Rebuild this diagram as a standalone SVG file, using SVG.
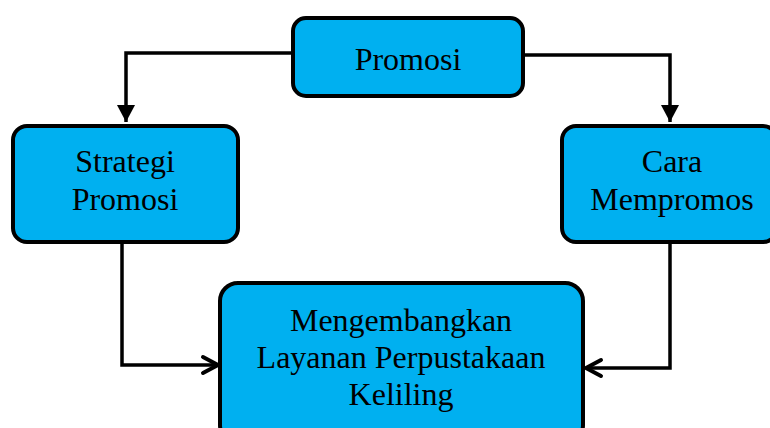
<svg xmlns="http://www.w3.org/2000/svg" width="770" height="428" viewBox="0 0 770 428">
<style>
.box{fill:#00B0F0;stroke:#000;stroke-width:4}
.t{font-family:"Liberation Serif","Times New Roman",serif;font-size:32px;fill:#000;text-anchor:middle}
.c{fill:none;stroke:#000;stroke-width:3.5}
</style>
<defs>
<marker id="tri" markerWidth="17" markerHeight="18" viewBox="0 0 17 18" refX="17" refY="9" orient="auto" markerUnits="userSpaceOnUse">
<path d="M0,0 L17,9 L0,18 Z" fill="#000"/>
</marker>
<marker id="open" markerWidth="22" markerHeight="22" viewBox="0 0 22 22" refX="19" refY="11" orient="auto" markerUnits="userSpaceOnUse">
<path d="M4,3 L19,11 L4,19" fill="none" stroke="#000" stroke-width="4" stroke-linecap="round" stroke-linejoin="round"/>
</marker>
</defs>
<g id="connectors">
<path class="c" d="M293,53 H126 V122" marker-end="url(#tri)"/>
<path class="c" d="M523,55 H670 V122" marker-end="url(#tri)"/>
<path class="c" d="M122,242 V365 H218" marker-end="url(#open)"/>
<path class="c" d="M670,242 V368 H586" marker-end="url(#open)"/>
</g>
<g id="promosi">
<rect class="box" x="293" y="18" width="230" height="78" rx="13"/>
<text class="t" x="408" y="70">Promosi</text>
</g>
<g id="strategi">
<rect class="box" x="13" y="126" width="225" height="116" rx="14"/>
<text class="t" x="125" y="172">Strategi</text>
<text class="t" x="125" y="210">Promosi</text>
</g>
<g id="cara">
<rect class="box" x="562" y="126" width="215" height="116" rx="14"/>
<text class="t" x="672" y="172">Cara</text>
<text class="t" x="672" y="210">Mempromos</text>
</g>
<g id="mengembangkan">
<rect class="box" x="220" y="283" width="363" height="160" rx="18"/>
<text class="t" x="401" y="331">Mengembangkan</text>
<text class="t" x="401" y="368">Layanan Perpustakaan</text>
<text class="t" x="401" y="405">Keliling</text>
</g>
</svg>
